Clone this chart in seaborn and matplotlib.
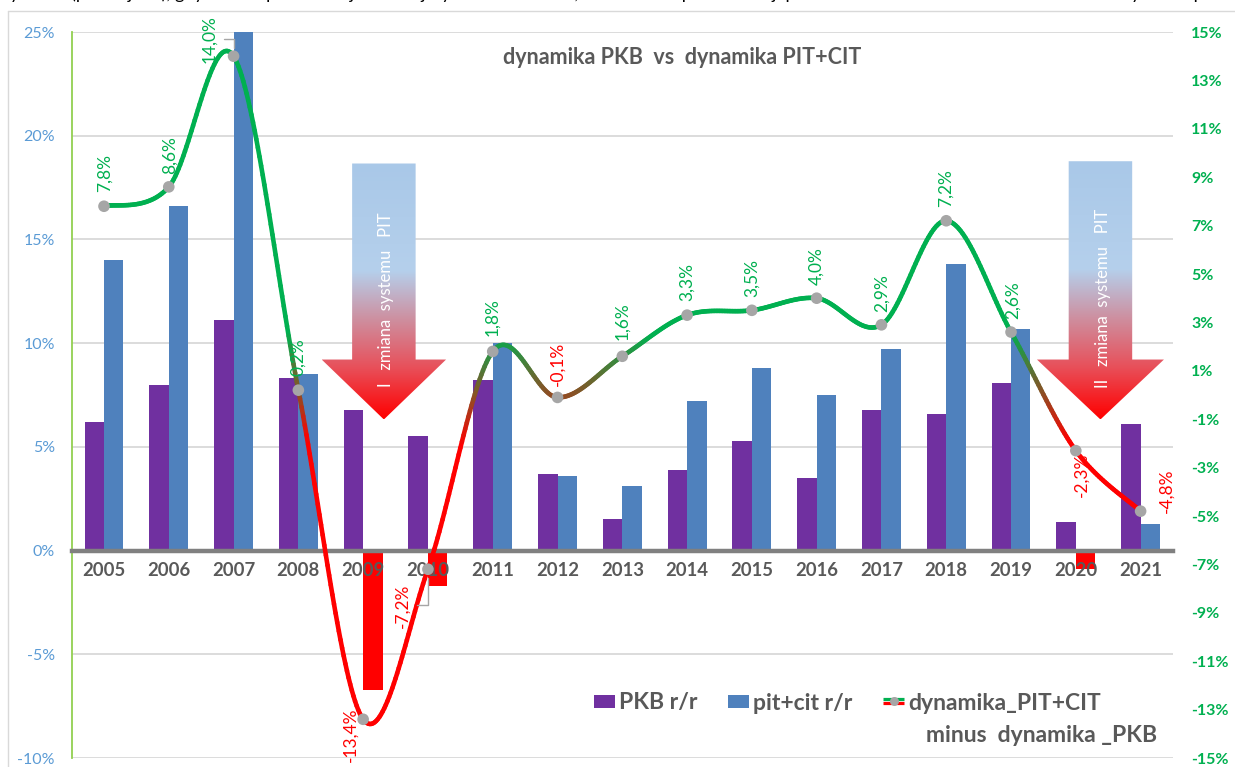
import numpy as np
import pandas as pd
import matplotlib
matplotlib.use("Agg")
import matplotlib.pyplot as plt
import seaborn as sns
from matplotlib.collections import LineCollection
from matplotlib.patches import Polygon, Patch
from matplotlib.lines import Line2D
from matplotlib.legend_handler import HandlerBase
from matplotlib.colors import LinearSegmentedColormap, to_rgb

# ---------------- data ----------------
years = [str(y) for y in range(2005, 2022)]
pkb = [6.2, 8.0, 11.1, 8.3, 6.8, 5.5, 8.2, 3.7, 1.5, 3.9, 5.3, 3.5, 6.8, 6.6, 8.1, 1.4, 6.1]
pitcit = [14.0, 16.6, 25.1, 8.5, -6.7, -1.7, 10.0, 3.6, 3.1, 7.2, 8.8, 7.5, 9.7, 13.8, 10.7, -0.9, 1.3]
diff = [7.8, 8.6, 14.0, 0.2, -13.4, -7.2, 1.8, -0.1, 1.6, 3.3, 3.5, 4.0, 2.9, 7.2, 2.6, -2.3, -4.8]
left_ticks = [-10, -5, 0, 5, 10, 15, 20, 25]
right_ticks = list(range(-15, 16, 2))
series_names = ["PKB r/r", "pit+cit r/r"]
line_name = "dynamika_PIT+CIT"
line_name2 = "minus  dynamika _PKB"
title = "dynamika PKB  vs  dynamika PIT+CIT"
arrow_texts = ["I   zmiana  systemu   PIT", "II   zmiana  systemu   PIT"]
top_text = ("Różnica dynamik (poniżej 0%), gdy wzrost podatków jest mniejszy niż wzrost PKB, "
            "co oznacza spadek relacji podatków PIT+CIT do PKB w latach zmian systemu podatkowego")

# ---------------- style ----------------
PURPLE = "#7030A0"
BLUE = "#4F81BD"
RED = "#FF0000"
GREEN = "#00B050"
GREY_MK = "#A6A6A6"
TXT = "#595959"

sns.set_style("white")
plt.rcParams["font.family"] = ["Lato", "DejaVu Sans"]

W, H = 1235, 767
fig = plt.figure(figsize=(W / 100, H / 100), dpi=100)
fig.patch.set_facecolor("white")
ax = fig.add_axes([71.6 / W, 1 - 758 / H, (1173 - 71.6) / W, (758 - 32) / H])

df = pd.DataFrame({
    "rok": years * 2,
    "wartosc": pkb + pitcit,
    "seria": [series_names[0]] * len(years) + [series_names[1]] * len(years),
})
sns.barplot(data=df, x="rok", y="wartosc", hue="seria", hue_order=series_names,
            palette=[PURPLE, BLUE], width=0.6, dodge=True, saturation=1,
            errorbar=None, legend=False, ax=ax, linewidth=0, edgecolor="none")
for p in ax.patches:
    if p.get_height() < 0:
        p.set_facecolor(RED)

ax.set_xlim(-0.5, len(years) - 0.5)
ax.set_ylim(-10, 25)
ax.set_xlabel("")
ax.set_ylabel("")
ax.set_axisbelow(True)
ax.yaxis.grid(True, color="#D9D9D9", lw=1.3)
ax.xaxis.grid(False)
ax.xaxis.set_zorder(2.5)  # category labels above the bars
for s in ["top", "right"]:
    ax.spines[s].set_visible(False)
ax.spines["left"].set_color("#92D050")
ax.spines["left"].set_linewidth(1.3)
ax.spines["bottom"].set_position(("data", 0))
ax.spines["bottom"].set_color("#808080")
ax.spines["bottom"].set_linewidth(3.2)
ax.set_xticks(range(len(years)))
ax.set_xticklabels(years, fontweight="bold", color=TXT, fontsize=13.3)
ax.tick_params(axis="x", length=0, pad=8)
ax.set_yticks(left_ticks)
ax.set_yticklabels([f"{v}%" for v in left_ticks], color="#5B9BD5", fontsize=11.5)
ax.tick_params(axis="y", length=0, pad=12)

# ---------------- block arrows ----------------
cmap = LinearSegmentedColormap.from_list("arr", [
    (0.0, "#A9C8E8"), (0.42, "#B5D0EC"), (0.62, "#CF8C9C"), (0.80, "#E8505A"), (1.0, "#FF0000")])
grad = cmap(np.linspace(0, 1, 256))[:, None, :3]


def block_arrow(xc, y_top, y_head, y_tip, shaft_hw, head_hw, label):
    verts = [(xc - shaft_hw, y_top), (xc + shaft_hw, y_top), (xc + shaft_hw, y_head),
             (xc + head_hw, y_head), (xc, y_tip), (xc - head_hw, y_head), (xc - shaft_hw, y_head)]
    poly = Polygon(verts, closed=True, facecolor="none", edgecolor="none", zorder=3)
    ax.add_patch(poly)
    im = ax.imshow(grad, extent=[xc - head_hw, xc + head_hw, y_tip, y_top], origin="upper",
                   aspect="auto", interpolation="bilinear", zorder=3)
    im.set_clip_path(poly)
    ax.text(xc + 0.04, (y_top + y_tip) / 2 - 0.4, label, rotation=90, color="white",
            fontsize=12, ha="center", va="center", zorder=4)


block_arrow(4.32, 18.66, 9.21, 6.32, 0.49, 0.96, arrow_texts[0])
block_arrow(15.38, 18.77, 9.21, 6.32, 0.49, 0.98, arrow_texts[1])
ax.set_xlim(-0.5, len(years) - 0.5)
ax.set_ylim(-10, 25)

# ---------------- right axis line ----------------
ax2 = ax.twinx()
ax2.set_ylim(-15, 15)
for s in ax2.spines.values():
    s.set_visible(False)
ax2.set_yticks(right_ticks)
ax2.set_yticklabels([f"{v}%" for v in right_ticks], color=GREEN, fontsize=11.5, fontweight="bold")
ax2.tick_params(axis="y", length=0, pad=13)
ax2.grid(False)

xs = np.arange(len(diff), dtype=float)
ys = np.array(diff, dtype=float)


def catmull_rom(x, y, n=40):
    P = np.column_stack([x, y])
    Pe = np.vstack([P[0], P, P[-1]])
    out = []
    t = np.linspace(0, 1, n, endpoint=False)[:, None]
    for i in range(len(P) - 1):
        p0, p1, p2, p3 = Pe[i], Pe[i + 1], Pe[i + 2], Pe[i + 3]
        out.append(0.5 * (2 * p1 + (-p0 + p2) * t + (2 * p0 - 5 * p1 + 4 * p2 - p3) * t ** 2
                          + (-p0 + 3 * p1 - 3 * p2 + p3) * t ** 3))
    out.append(P[-1:])
    return np.vstack(out)


curve = catmull_rom(xs, ys)
segs = np.stack([curve[:-1], curve[1:]], axis=1)
mid = (curve[:-1, 1] + curve[1:, 1]) / 2
tt = np.clip((mid + 2.0) / 4.5, 0, 1)[:, None]
cols = np.array(to_rgb(RED)) * (1 - tt) + np.array(to_rgb(GREEN)) * tt
lc = LineCollection(segs, colors=cols, linewidths=3.3, capstyle="round", joinstyle="round", zorder=5)
ax2.add_collection(lc)
sns.scatterplot(x=xs, y=ys, ax=ax2, color=GREY_MK, s=70, edgecolor="none", zorder=6, legend=False)
ax2.set_xlim(-0.5, len(years) - 0.5)
ax2.set_ylim(-15, 15)

# data labels: (dx px, dy px, va)
lab_pos = [(1, 14, "bottom"), (1, 13, "bottom"), (-24, -7, "bottom"), (0, 14, "bottom"),
           (-13, 12, "top"), (-25, -14, "top"), (0, 15, "bottom"), (0, 11, "bottom"),
           (0, 16, "bottom"), (0, 14, "bottom"), (0, 13, "bottom"), (0, 13, "bottom"),
           (0, 13, "bottom"), (0, 14, "bottom"), (2, 13, "bottom"), (6, -2, "top"),
           (26, -2, "bottom")]
for i, v in enumerate(diff):
    dx, dy, va = lab_pos[i]
    txt = f"{v:.1f}%".replace(".", ",")
    kw = {}
    if i in (2, 5):
        kw["arrowprops"] = dict(arrowstyle="-", color="#A6A6A6", lw=1, shrinkA=2, shrinkB=6,
                                connectionstyle="angle,angleA=0,angleB=90,rad=0")
    ax2.annotate(txt, xy=(i, v), xytext=(dx, dy), textcoords="offset pixels",
                 rotation=90, ha="center", va=va, fontsize=12.5,
                 color=GREEN if v > 0 else RED, zorder=7, **kw)

# ---------------- title & texts ----------------
fig.text(682 / W, 1 - 58 / H, title, ha="center", va="center", fontsize=15.5,
         fontweight="bold", color=TXT)
# top line of a caption, cut off by the picture's upper edge as in the reference
fig.text(0.5, 1 + 1.5 / H, top_text, ha="center", va="baseline", fontsize=13, color="black")

# chart border
fig.add_artist(Line2D([8 / W, 8 / W], [0, 1 - 11 / H], transform=fig.transFigure,
                      color="#D9D9D9", lw=1))
fig.add_artist(Line2D([8 / W, 1], [1 - 11 / H, 1 - 11 / H], transform=fig.transFigure,
                      color="#D9D9D9", lw=1))


# ---------------- legend ----------------
class DualLineHandler(HandlerBase):
    def create_artists(self, legend, orig_handle, xdescent, ydescent, width, height,
                       fontsize, trans):
        y = height / 2 - ydescent
        x0, x1 = -xdescent, -xdescent + width
        g = Line2D([x0, x1], [y + 1.4, y + 1.4], color=GREEN, lw=2.3, transform=trans,
                   solid_capstyle="butt")
        r = Line2D([x0, x1], [y - 1.4, y - 1.4], color=RED, lw=2.3, transform=trans,
                   solid_capstyle="butt")
        m = Line2D([(x0 + x1) / 2], [y], marker="o", ms=6.5, color=GREY_MK, mec="none",
                   linestyle="none", transform=trans)
        return [g, r, m]


LEG_FS = 16.5
line_handle = Line2D([], [], color=GREEN)
handles = [Patch(facecolor=PURPLE, edgecolor="none"), Patch(facecolor=BLUE, edgecolor="none"),
           line_handle]
leg = fig.legend(handles, [series_names[0], series_names[1], line_name],
                 handler_map={line_handle: DualLineHandler()},
                 loc="center left", bbox_to_anchor=(594 / W, 1 - 703 / H), ncol=3,
                 frameon=False, prop={"weight": "bold", "size": LEG_FS}, labelcolor=TXT,
                 handlelength=0.9, handleheight=0.5, handletextpad=0.18, columnspacing=1.35,
                 borderpad=0, borderaxespad=0)
fig.canvas.draw()
bb = leg.get_texts()[2].get_window_extent(fig.canvas.get_renderer())
fig.text((bb.x0 + 18) / W, ((bb.y0 + bb.y1) / 2 - 33) / H, line_name2, ha="left", va="center",
         fontsize=LEG_FS, fontweight="bold", color=TXT)

fig.savefig("out.png", dpi=100, facecolor="white")
